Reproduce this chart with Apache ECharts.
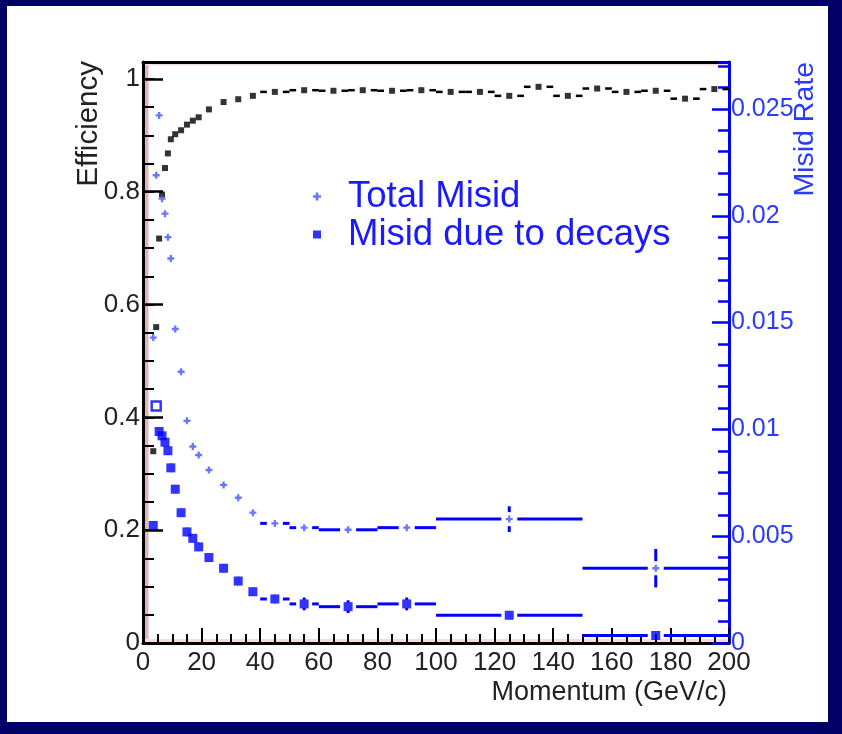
<!DOCTYPE html>
<html><head><meta charset="utf-8">
<script src="https://cdn.jsdelivr.net/npm/echarts@6.0.0/dist/echarts.min.js"></script>
<style>
html,body{margin:0;padding:0;background:#000066;width:842px;height:734px;overflow:hidden;}
#panel{position:absolute;left:7px;top:6px;width:821px;height:716px;background:#fff;}
#chart{position:absolute;left:0;top:0;width:842px;height:734px;}
</style></head><body>
<div id="panel"></div><div id="chart"></div>
<script>
// ---------------- data ----------------
const effX     = [3.5,4.5,5.5,6.5,7.5,8.5,9.5,11,13,15,17,19,22.5,27.5,32.5,37.5,45,55,65,75,85,95,105,115,125,135,145,155,165,175,185,195];
const effHalfW = [0.5,0.5,0.5,0.5,0.5,0.5,0.5,1,1,1,1,1,2.5,2.5,2.5,2.5,5,5,5,5,5,5,5,5,5,5,5,5,5,5,5,5];
const effY     = [0.34,0.56,0.717,0.795,0.842,0.868,0.893,0.902,0.909,0.919,0.926,0.932,0.946,0.959,0.964,0.970,0.977,0.980,0.979,0.980,0.979,0.980,0.977,0.977,0.970,0.986,0.970,0.983,0.977,0.979,0.965,0.982];
const effErr   = effY.map(() => 0.003);

const misX        = [3.5,4.5,5.5,6.5,7.5,8.5,9.5,11,13,15,17,19,22.5,27.5,32.5,37.5,45,55,70,90,125,175];
const misHalfW    = [0.5,0.5,0.5,0.5,0.5,0.5,0.5,1,1,1,1,1,2.5,2.5,2.5,2.5,5,5,10,10,25,25];
const totalMisid  = [0.0143,0.0219,0.0247,0.0208,0.0201,0.0190,0.0180,0.0147,0.0127,0.0104,0.0092,0.0088,0.0081,0.0074,0.0068,0.0061,0.0056,0.0054,0.0053,0.0054,0.0058,0.0035];
const totalErr    = [0.0003,0.0003,0.0003,0.0003,0.0003,0.0003,0.0003,0.0003,0.0003,0.0003,0.0003,0.0003,0.0003,0.0003,0.0003,0.0003,0.0003,0.0003,0.0003,0.0003,0.0006,0.0009];
const decayMisid  = [0.0055,0.0111,0.0099,0.0097,0.0094,0.0090,0.0082,0.0072,0.0061,0.0052,0.0049,0.0045,0.0040,0.0035,0.0029,0.0024,0.00206,0.00183,0.0017,0.00183,0.0013,0.00035];
const decayErr    = [0.0002,0.0002,0.0002,0.0002,0.0002,0.0002,0.0002,0.0002,0.0002,0.0002,0.0002,0.0002,0.0002,0.0002,0.0002,0.0002,0.0002,0.0003,0.0003,0.0003,0.0002,0.0001];
const decayOpenIndex = 1;

const xTickLabels     = ['0','20','40','60','80','100','120','140','160','180','200'];
const effTickLabels   = ['0','0.2','0.4','0.6','0.8','1'];
const rateTickLabels  = ['0','0.005','0.01','0.015','0.02','0.025'];
const legendNames     = ['Total Misid','Misid due to decays'];

// ---------------- layout/style ----------------
const FONT = '"Liberation Sans", Arial, sans-serif';
const G = {left:143, right:113, top:62, bottom:91};
const BLUE = '#0000ff';

function errSeries(xs, hw, ys, es, yAxisIndex, color, lw, hGap, vGap) {
  return {
    type:'custom', xAxisIndex:0, yAxisIndex, silent:true, z:3,
    data: xs.map((x,i)=>[x, ys[i], x-hw[i], x+hw[i], es[i]]),
    encode:{x:0, y:1},
    renderItem(params, api){
      const x=api.value(0), y=api.value(1), lo=api.value(2), hi=api.value(3), e=api.value(4);
      const c=api.coord([x,y]);
      const L=api.coord([lo,y])[0], H=api.coord([hi,y])[0];
      const T=api.coord([x,y+e])[1], B=api.coord([x,y-e])[1];
      const st={stroke:color, lineWidth:lw};
      const ch=[];
      if (c[0]-hGap > L) ch.push({type:'line', shape:{x1:L,y1:c[1],x2:c[0]-hGap,y2:c[1]}, style:st});
      if (H > c[0]+hGap) ch.push({type:'line', shape:{x1:c[0]+hGap,y1:c[1],x2:H,y2:c[1]}, style:st});
      if (c[1]-vGap > T) ch.push({type:'line', shape:{x1:c[0],y1:T,x2:c[0],y2:c[1]-vGap}, style:st});
      if (B > c[1]+vGap) ch.push({type:'line', shape:{x1:c[0],y1:c[1]+vGap,x2:c[0],y2:B}, style:st});
      return {type:'group', children:ch};
    }
  };
}

function lookup(labels, step){ return v => { const i = Math.round(v/step); return Math.abs(v - i*step) < step*1e-3 && labels[i] !== undefined ? labels[i] : ''; }; }

const chart = echarts.init(document.getElementById('chart'), null, {renderer:'canvas'});
chart.setOption({
  backgroundColor:'transparent',
  animation:false,
  grid:Object.assign({containLabel:false, outerBoundsMode:'none'}, G),
  legend:{
    data:[{name:legendNames[0]},{name:legendNames[1]}],
    orient:'vertical', left:308, top:173, itemWidth:8, itemHeight:8, itemGap:1,
    textStyle:{fontSize:36.5, color:'#1a1aff', fontFamily:FONT, lineHeight:30, padding:[0,0,0,22]},
    selectedMode:false
  },
  xAxis:[{
    type:'value', min:0, max:200, interval:20, position:'bottom',
    axisLine:{onZero:false, lineStyle:{color:'#000', width:3}},
    axisTick:{inside:true, length:15, lineStyle:{color:'#000', width:2}},
    minorTick:{show:true, splitNumber:4, length:9, lineStyle:{color:'#000', width:2}},
    splitLine:{show:false}, minorSplitLine:{show:false},
    axisLabel:{fontSize:26, color:'#222', fontFamily:FONT, margin:7, formatter:lookup(xTickLabels,20)}
  },{
    type:'value', min:0, max:200, position:'top',
    axisLine:{show:true, onZero:false, lineStyle:{color:'#000', width:3}},
    axisTick:{show:false}, axisLabel:{show:false}, splitLine:{show:false}
  }],
  yAxis:[{
    type:'value', min:0, max:1.03, interval:0.2, position:'left',
    axisLine:{onZero:false, lineStyle:{color:'#000', width:3}},
    axisTick:{inside:true, length:20, lineStyle:{color:'#000', width:2.5}},
    splitLine:{show:false},
    axisLabel:{fontSize:26, color:'#222', fontFamily:FONT, margin:3, showMaxLabel:false, formatter:lookup(effTickLabels,0.2)}
  },{
    type:'value', min:0, max:1.03, interval:0.05, position:'left',
    axisLine:{show:false, onZero:false},
    axisTick:{inside:true, length:11, lineStyle:{color:'#000', width:2}},
    splitLine:{show:false}, axisLabel:{show:false}
  },{
    type:'value', min:0, max:0.0272, interval:0.005, position:'right',
    axisLine:{onZero:false, lineStyle:{color:BLUE, width:3}},
    axisTick:{inside:true, length:17, lineStyle:{color:BLUE, width:2.5}},
    splitLine:{show:false},
    axisLabel:{fontSize:25, color:'#2a3aff', fontFamily:FONT, margin:2, showMaxLabel:false, formatter:lookup(rateTickLabels,0.005)}
  },{
    type:'value', min:0, max:0.0272, interval:0.001, position:'right',
    axisLine:{show:false, onZero:false},
    axisTick:{inside:true, length:11, lineStyle:{color:BLUE, width:2.5}},
    splitLine:{show:false}, axisLabel:{show:false}
  }],
  graphic:[
    {type:'rect', shape:{x:G.left+1.5, y:G.top, width:4, height:734-G.bottom-G.top-2}, style:{fill:'#ddb6b6'}, z:-10, silent:true},
    {type:'rect', shape:{x:G.left, y:734-G.bottom-4, width:842-G.right-G.left, height:3}, style:{fill:'#fbdada'}, z:-10, silent:true},
    {type:'rect', shape:{x:G.left, y:G.top+1.5, width:842-G.right-G.left, height:2}, style:{fill:'#f2dede'}, z:-10, silent:true},
    {type:'text', x:89, y:G.top-1, rotation:Math.PI/2, style:{text:'Efficiency', font:'29.5px '+FONT, fill:'#222', align:'right', verticalAlign:'middle'}, silent:true},
    {type:'text', x:805, y:G.top, rotation:Math.PI/2, style:{text:'Misid Rate', font:'28.5px '+FONT, fill:'#2a3aff', align:'right', verticalAlign:'middle'}, silent:true},
    {type:'text', x:727, y:693, style:{text:'Momentum (GeV/c)', font:'27px '+FONT, fill:'#222', align:'right', verticalAlign:'middle'}, silent:true}
  ],
  series:[
    errSeries(effX, effHalfW, effY, effErr, 0, '#000', 2.5, 8, 7),
    {type:'scatter', name:'Efficiency', xAxisIndex:0, yAxisIndex:0, symbol:'rect', symbolSize:6, z:4,
     itemStyle:{color:'#000'}, data:effX.map((x,i)=>[x,effY[i]])},
    errSeries(misX, misHalfW, totalMisid, totalErr, 2, BLUE, 3, 8, 7),
    {type:'scatter', name:legendNames[0], xAxisIndex:0, yAxisIndex:2,
     symbol:'path://M2,0H4V2H6V4H4V6H2V4H0V2H2Z', symbolSize:7, z:4,
     itemStyle:{color:'#4455ff'}, data:misX.map((x,i)=>[x,totalMisid[i]])},
    errSeries(misX, misHalfW, decayMisid, decayErr, 2, BLUE, 3, 8, 4),
    {type:'scatter', name:legendNames[1], xAxisIndex:0, yAxisIndex:2, symbol:'rect', symbolSize:9, z:4,
     itemStyle:{color:BLUE},
     data:misX.map((x,i)=> i===decayOpenIndex
        ? {value:[x,decayMisid[i]], itemStyle:{color:'#fff', borderColor:BLUE, borderWidth:2.5}}
        : [x,decayMisid[i]])}
  ]
});
</script>
</body></html>
